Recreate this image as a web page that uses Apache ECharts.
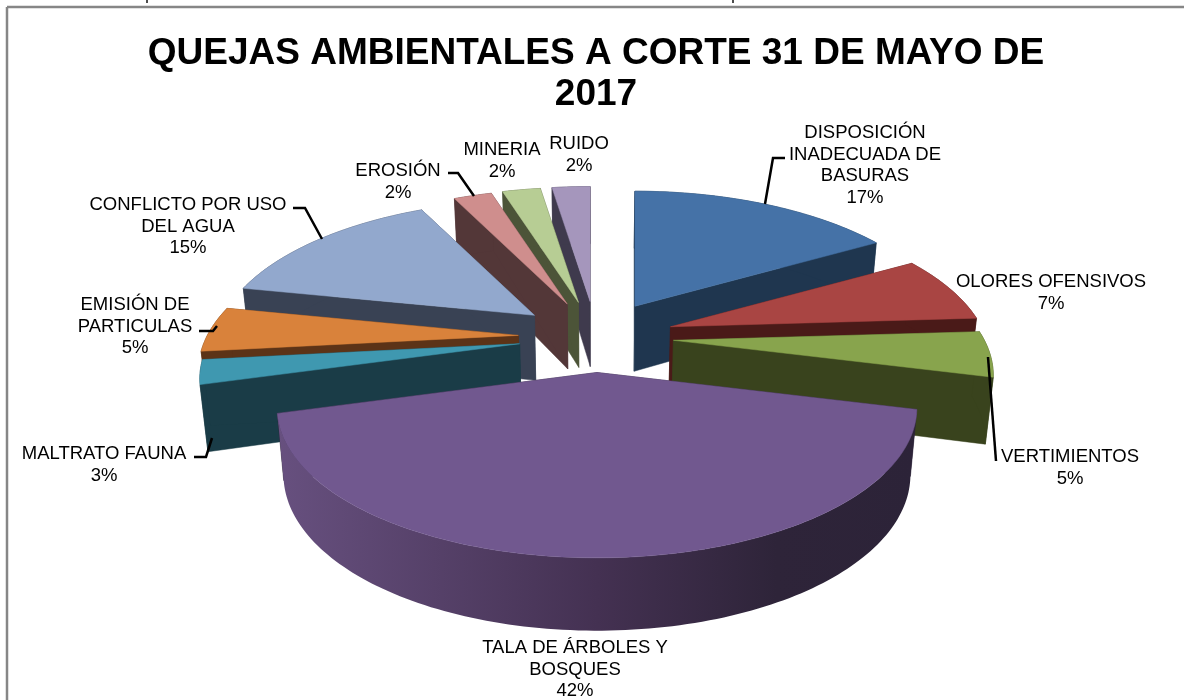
<!DOCTYPE html>
<html><head><meta charset="utf-8">
<style>html,body{margin:0;padding:0;background:#fff}#c{width:1184px;height:700px}</style>
<script src="https://cdn.jsdelivr.net/npm/echarts@6/dist/echarts.min.js"></script>
</head><body><div id="c"></div>
<script>
const categories = ['DISPOSICIÓN\nINADECUADA DE\nBASURAS','OLORES OFENSIVOS','VERTIMIENTOS','TALA DE ÁRBOLES Y\nBOSQUES','MALTRATO FAUNA','EMISIÓN DE\nPARTICULAS','CONFLICTO POR USO\nDEL AGUA','EROSIÓN','MINERIA','RUIDO'];
const values = [16.6,7.3,4.9,41.5,2.6,4.9,14.5,2.4,2.4,2.4];
const topColors = ['#4572a7','#a94543','#88a44d','#71588f','#3f98b0','#d9823b','#92a8cd','#cf8e8d','#b7cd94','#a596bc'];
const sideColors = ['#1f364f','#4a1a18','#39431d','#2c2338','#1a3c47','#5c3317','#394254','#533738','#4c5438','#3f3a4d'];
const labelAnchors = [[865,122],[1051,271],[1070,446],[575,637],[104,443],[135,294],[188,194],[398,160],[502,139],[579,133]];
const leaders = [
  [[765,204],[773,158],[785,158]], null,
  [[988,357],[996,461]], null,
  [[194,457],[206,457],[212,438]],
  [[199,331],[213,331],[217,326]],
  [[293,208],[305,208],[322,239]],
  [[448,173],[458,173],[474,196]], null, null
];

const CX=596, CY=337, RX=311, RY=142, PERSP=0.234, EXPLODE=0.25, DEPTH=65, SHRINK=0.98;
const total = values.reduce((a,b)=>a+b,0);
const starts = []; { let acc=0; values.forEach(v=>{starts.push(acc/total*Math.PI*2); acc+=v;}); }

function sliceGeom(i){
  const a0=starts[i], a1=a0+values[i]/total*Math.PI*2, m=(a0+a1)/2;
  const ax=CX+EXPLODE*RX*Math.sin(m), ay=CY-EXPLODE*RY*Math.cos(m);
  const arc=[]; const n=Math.max(6,Math.ceil((a1-a0)/0.02));
  for(let k=0;k<=n;k++){
    const t=a0+(a1-a0)*k/n, u=Math.sin(t), v=Math.cos(t), s=1/(1+PERSP*v);
    arc.push({x:ax+RX*u*s, y:ay-RY*v*s, v});
  }
  return {ax,ay,arc,m};
}
const low = p=>[CX+(p.x-CX)*SHRINK, p.y+DEPTH*(1-0.12*p.v)];
const order = values.map((_,i)=>i).sort((a,b)=>{
  const ma=starts[a]+values[a]/total*Math.PI, mb=starts[b]+values[b]/total*Math.PI;
  return Math.cos(mb)-Math.cos(ma);
});

function renderItem(params,api){
  const i=api.value(0), g=sliceGeom(i), rank=params.dataIndex*10;
  const first=g.arc[0], last=g.arc[g.arc.length-1];
  const apexTop=[g.ax,g.ay], apexLow=[CX+(g.ax-CX)*SHRINK,g.ay+DEPTH];
  const side=sideColors[i];
  const wallFill = i===3 ? new echarts.graphic.LinearGradient(0,0,1,0,[
    {offset:0,color:'#67507f'},{offset:0.5,color:'#443152'},{offset:0.78,color:'#2e2439'},{offset:1,color:'#2c2338'}]) : side;
  const poly=(pts,fill,z)=>({type:'polygon',z2:rank+z,shape:{points:pts},style:{fill,stroke:i===3&&z===2?null:fill,lineWidth:i===3&&z===2?0:0.5}});
  const top=[apexTop].concat(g.arc.map(p=>[p.x,p.y]));
  const wall=g.arc.map(p=>[p.x,p.y]).concat(g.arc.slice().reverse().map(low));
  return {type:'group',children:[
    poly([apexTop,[first.x,first.y],low(first),apexLow],side,0),
    poly([apexTop,[last.x,last.y],low(last),apexLow],side,1),
    poly(wall,wallFill,2),
    poly(top,topColors[i],3)
  ]};
}

const textFont='"Liberation Sans", Arial, sans-serif';
const gfx=[
  {type:'line',shape:{x1:7,y1:7,x2:1184,y2:7},style:{stroke:'#868686',lineWidth:2.5},z:1},
  {type:'line',shape:{x1:7,y1:7,x2:7,y2:700},style:{stroke:'#868686',lineWidth:2.5},z:1},
  {type:'line',shape:{x1:147,y1:0,x2:147,y2:3},style:{stroke:'#111',lineWidth:1.5},z:1},
  {type:'line',shape:{x1:733,y1:0,x2:733,y2:3},style:{stroke:'#111',lineWidth:1.5},z:1}
];
categories.forEach((c,i)=>{
  gfx.push({type:'text',x:labelAnchors[i][0],y:labelAnchors[i][1],z:20,style:{
    text:c+'\n'+Math.round(values[i])+'%',fill:'#000',font:'18.5px '+textFont,
    align:'center',verticalAlign:'top',lineHeight:21.7}});
  if(leaders[i]) gfx.push({type:'polyline',z:20,shape:{points:leaders[i]},style:{stroke:'#000',lineWidth:2.5,fill:null}});
});

const chart=echarts.init(document.getElementById('c'),null,{renderer:'canvas'});
chart.setOption({
  animation:false,
  backgroundColor:'#fff',
  title:{text:'QUEJAS AMBIENTALES A CORTE 31 DE MAYO DE\n2017',left:591,top:28,textAlign:'center',
    textStyle:{fontFamily:'Liberation Sans',fontWeight:'bold',fontSize:37,lineHeight:41,color:'#000'}},
  graphic:gfx,
  series:[{type:'custom',coordinateSystem:'none',renderItem,silent:true,clip:false,
    encode:{value:0},data:order.map(i=>[i])}]
});
</script></body></html>
